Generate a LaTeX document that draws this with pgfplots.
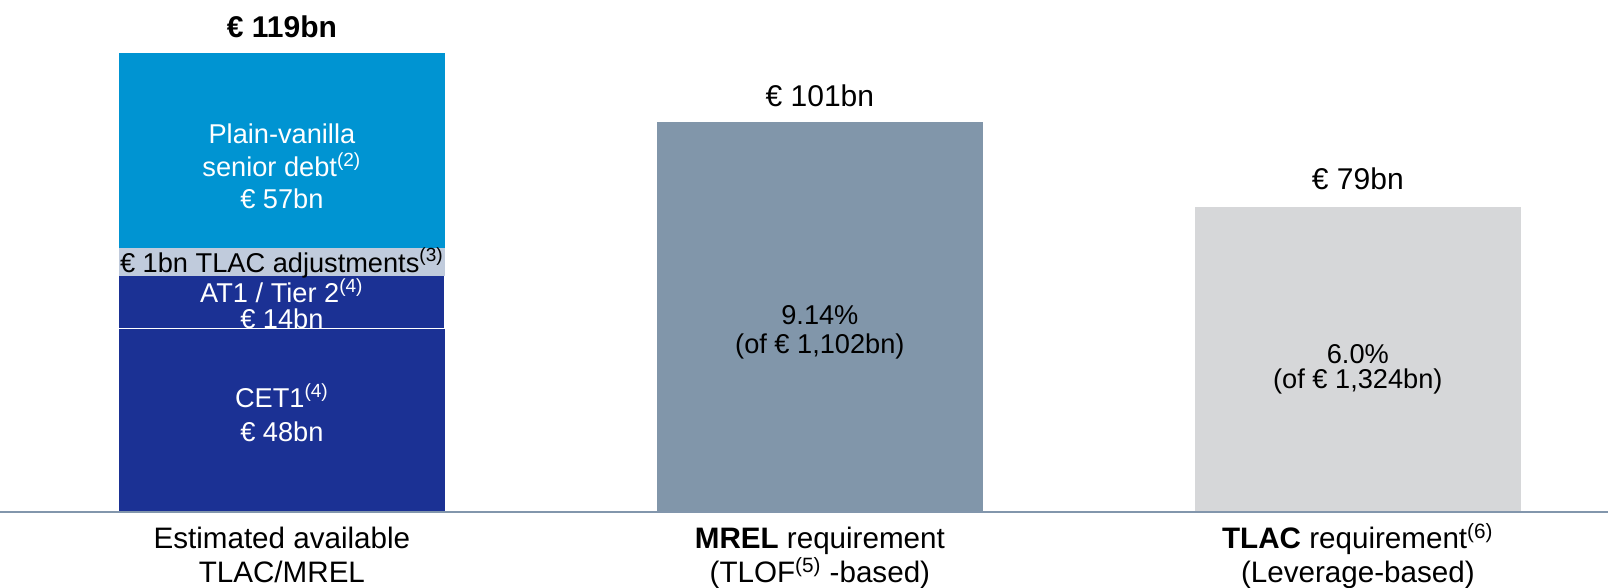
\documentclass[border=0pt]{standalone}
\usepackage{fontspec}
\setmainfont{Liberation Sans}
\usepackage{pgfplots}
\pgfplotsset{compat=1.18}
\definecolor{senior}{RGB}{0,148,210}
\definecolor{darkblue}{RGB}{27,49,148}
\definecolor{tlacadj}{RGB}{192,203,220}
\definecolor{mrel}{RGB}{129,150,170}
\definecolor{tlacreq}{RGB}{214,215,217}
\definecolor{axisline}{RGB}{130,150,172}
\tikzset{lbl/.style={anchor=base, inner sep=0pt, font=\fontsize{13.6}{17}\selectfont},
         big/.style={lbl, font=\fontsize{15}{18}\selectfont},
         cat/.style={lbl, font=\fontsize{14.8}{17}\selectfont}}
\begin{document}
\begin{tikzpicture}
\begin{axis}[
  scale only axis, width=804pt, height=256pt,
  xmin=-0.524, xmax=2.465, ymin=0, ymax=132.7,
  axis x line*=bottom, hide y axis,
  x axis line style={draw=axisline, line width=1pt},
  xtick=\empty, ytick=\empty,
  axis on top,
  ybar stacked, reverse stacked plots=false, bar width=0.606,
  clip=false,
]
% CET1
\addplot[fill=darkblue, draw=none] coordinates {(0,47.5) (1,0) (2,0)};
% AT1 / Tier 2
\addplot[fill=darkblue, draw=white, line width=0.6pt] coordinates {(0,13.7) (1,0) (2,0)};
% TLAC adjustments
\addplot[fill=tlacadj, draw=none] coordinates {(0,7.2) (1,0) (2,0)};
% Plain-vanilla senior debt
\addplot[fill=senior, draw=none] coordinates {(0,50.6) (1,0) (2,0)};
% MREL requirement
\addplot[fill=mrel, draw=none] coordinates {(0,0) (1,101) (2,0)};
% TLAC requirement
\addplot[fill=tlacreq, draw=none] coordinates {(0,0) (1,0) (2,79)};

% bar 1 labels
\node[big, font=\fontsize{15}{18}\selectfont\bfseries] at (axis cs:0,122.9) {€ 119bn};
\node[lbl, text=white] at (axis cs:0,95.4) {Plain-vanilla};
\node[lbl, text=white] at (axis cs:0,86.9) {senior debt\textsuperscript{(2)}};
\node[lbl, text=white] at (axis cs:0,78.6) {€ 57bn};
\node[lbl, text=black] at (axis cs:0,62.2) {€ 1bn TLAC adjustments\textsuperscript{(3)}};
\node[lbl, text=white] at (axis cs:0,54.3) {AT1 / Tier 2\textsuperscript{(4)}};
\node[lbl, text=white] at (axis cs:0,47.6) {€ 14bn};
\node[lbl, text=white] at (axis cs:0,27.0) {CET1\textsuperscript{(4)}};
\node[lbl, text=white] at (axis cs:0,18.4) {€ 48bn};
% bar 2 labels
\node[big] at (axis cs:1,105.0) {€ 101bn};
\node[lbl] at (axis cs:1,48.6) {9.14\%};
\node[lbl] at (axis cs:1,41.1) {(of € 1,102bn)};
% bar 3 labels
\node[big] at (axis cs:2,83.5) {€ 79bn};
\node[lbl] at (axis cs:2,38.5) {6.0\%};
\node[lbl] at (axis cs:2,32.1) {(of € 1,324bn)};
% category labels
\node[cat, yshift=-18.5pt] at (axis cs:0,0) {Estimated available};
\node[cat, yshift=-35.5pt] at (axis cs:0,0) {TLAC/MREL};
\node[cat, yshift=-18.5pt] at (axis cs:1,0) {\textbf{MREL} requirement};
\node[cat, yshift=-35.5pt] at (axis cs:1,0) {(TLOF\textsuperscript{(5)} -based)};
\node[cat, yshift=-18.5pt] at (axis cs:2,0) {\textbf{TLAC} requirement\textsuperscript{(6)}};
\node[cat, yshift=-35.5pt] at (axis cs:2,0) {(Leverage-based)};
\coordinate (ll) at (rel axis cs:0,0);
\coordinate (ur) at (rel axis cs:1,1);
\end{axis}
\pgfresetboundingbox
\path ([yshift=-38pt]ll) rectangle (ur);
\end{tikzpicture}
\end{document}
